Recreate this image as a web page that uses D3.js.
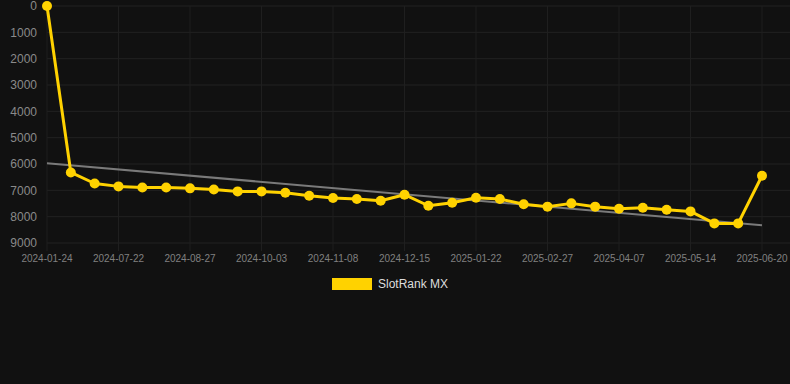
<!DOCTYPE html>
<html>
<head>
<meta charset="utf-8">
<script src="https://cdn.jsdelivr.net/npm/d3@7"></script>
<style>
  html, body { margin: 0; padding: 0; background: #111111; }
  svg { display: block; font-family: "Liberation Sans", Arial, sans-serif; }
</style>
</head>
<body>
<div id="chart"></div>
<script>
// dates of each snapshot (only every 3rd one gets a label)
const dates = [
  "2024-01-24", "2024-06-28", "2024-07-10", "2024-07-22", "2024-08-03", "2024-08-15",
  "2024-08-27", "2024-09-08", "2024-09-20", "2024-10-03", "2024-10-15", "2024-10-27",
  "2024-11-08", "2024-11-20", "2024-12-02", "2024-12-15", "2024-12-28", "2025-01-09",
  "2025-01-22", "2025-02-03", "2025-02-15", "2025-02-27", "2025-03-11", "2025-03-25",
  "2025-04-07", "2025-04-19", "2025-05-01", "2025-05-14", "2025-05-26", "2025-06-07",
  "2025-06-20"
];
const ranks = [
  0, 6320, 6740, 6850, 6890, 6890, 6925, 6965, 7040, 7040, 7090, 7205,
  7290, 7330, 7395, 7165, 7585, 7470, 7280, 7330, 7530, 7620, 7495, 7620,
  7700, 7660, 7735, 7800, 8255, 8255, 6445
];
// trend line end values
const trendStart = 5970;
const trendEnd = 8330;
const yTicks = [0, 1000, 2000, 3000, 4000, 5000, 6000, 7000, 8000, 9000];
const seriesName = "SlotRank MX";

const W = 790, H = 384;
const plotLeft = 47, plotRight = 762, gridRight = 790, plotTop = 6, plotBottom = 243;

const svg = d3.select("#chart").append("svg")
  .attr("width", W)
  .attr("height", H);

svg.append("rect").attr("width", W).attr("height", H).attr("fill", "#111111");

const x = d3.scalePoint().domain(dates).range([plotLeft, plotRight]);
const y = d3.scaleLinear().domain([0, 9000]).range([plotTop, plotBottom]);

// horizontal grid + y labels
svg.append("g").selectAll("line")
  .data(yTicks)
  .join("line")
  .attr("x1", plotLeft).attr("x2", gridRight)
  .attr("y1", d => y(d)).attr("y2", d => y(d))
  .attr("stroke", "#222222").attr("stroke-width", 1);

svg.append("g").selectAll("text")
  .data(yTicks)
  .join("text")
  .attr("x", 37)
  .attr("y", d => y(d))
  .attr("dy", "0.35em")
  .attr("text-anchor", "end")
  .attr("fill", "#8a8a8a")
  .style("font-size", "12px")
  .text(d => d);

// vertical grid + x labels on every 3rd date
const shown = dates.filter((d, i) => i % 3 === 0);

svg.append("g").selectAll("line")
  .data(shown)
  .join("line")
  .attr("x1", d => x(d)).attr("x2", d => x(d))
  .attr("y1", plotTop).attr("y2", plotBottom + 8)
  .attr("stroke", "#1f1f1f").attr("stroke-width", 1);

svg.append("g").selectAll("text")
  .data(shown)
  .join("text")
  .attr("x", d => x(d))
  .attr("y", 262)
  .attr("text-anchor", "middle")
  .attr("fill", "#808080")
  .style("font-size", "10px")
  .text(d => d);

// trend line
svg.append("line")
  .attr("x1", x(dates[0])).attr("y1", y(trendStart))
  .attr("x2", x(dates[dates.length - 1])).attr("y2", y(trendEnd))
  .attr("stroke", "#7a7a7a").attr("stroke-width", 2);

// main series
const line = d3.line()
  .x((d, i) => x(dates[i]))
  .y(d => y(d));

svg.append("path")
  .datum(ranks)
  .attr("d", line)
  .attr("fill", "none")
  .attr("stroke", "#FFD200")
  .attr("stroke-width", 3)
  .attr("stroke-linejoin", "round");

svg.append("g").selectAll("circle")
  .data(ranks)
  .join("circle")
  .attr("cx", (d, i) => x(dates[i]))
  .attr("cy", d => y(d))
  .attr("r", 5)
  .attr("fill", "#FFD200");

// legend
const legend = svg.append("g");
legend.append("rect")
  .attr("x", 332).attr("y", 278)
  .attr("width", 40).attr("height", 12)
  .attr("fill", "#FFD200");
legend.append("text")
  .attr("x", 378).attr("y", 284)
  .attr("dy", "0.35em")
  .attr("fill", "#dddddd")
  .style("font-size", "12px")
  .text(seriesName);
</script>
</body>
</html>
